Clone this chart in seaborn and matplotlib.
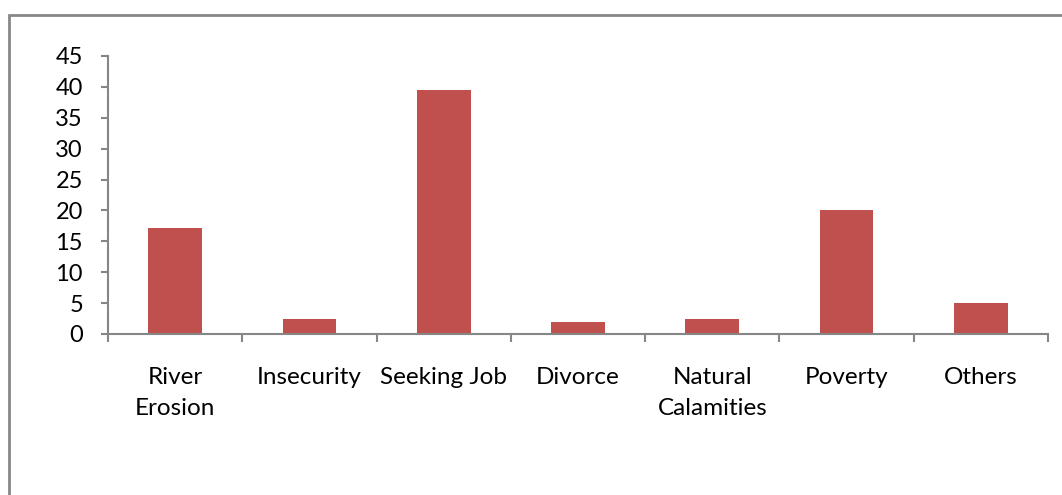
import matplotlib
matplotlib.use("Agg")
import matplotlib.pyplot as plt
import seaborn as sns
import pandas as pd
from matplotlib.patches import Rectangle

categories = ["River\nErosion", "Insecurity", "Seeking Job", "Divorce",
              "Natural\nCalamities", "Poverty", "Others"]
values = [17.1, 2.4, 39.5, 1.9, 2.4, 20.0, 5.0]
yticks = [0, 5, 10, 15, 20, 25, 30, 35, 40, 45]

sns.set_theme(style="white")
plt.rcParams['font.family'] = ['Lato', 'DejaVu Sans']

df = pd.DataFrame({"cat": categories, "val": values})

fig = plt.figure(figsize=(10.62, 4.95), dpi=100)
ax = fig.add_axes([108/1062, 1-334/495, (1048-108)/1062, (334-56)/495])

sns.barplot(data=df, x="cat", y="val", color="#C0504D", width=0.4,
            saturation=1, ax=ax, edgecolor="none")

ax.set_xlim(-0.5, len(categories)-0.5)
ax.set_ylim(0, 45)
ax.set_yticks(yticks)
ax.set_xlabel("")
ax.set_ylabel("")

for s in ["top", "right"]:
    ax.spines[s].set_visible(False)
for s in ["left", "bottom"]:
    ax.spines[s].set_color("#868686")
    ax.spines[s].set_linewidth(1.5)

ax.tick_params(axis="y", which="major", direction="out", length=5, width=1.5,
               color="#868686", pad=13, labelsize=17, left=True, labelcolor="black")
ax.tick_params(axis="x", which="major", length=0, pad=24, labelsize=17.5, labelcolor="black")
ax.set_xticks([i - 0.5 for i in range(len(categories)+1)], minor=True)
ax.tick_params(axis="x", which="minor", direction="out", length=6, width=1.5,
               color="#868686", bottom=True)
for lab in ax.get_xticklabels():
    lab.set_linespacing(1.55)
    lab.set_verticalalignment("top")

fig.patches.append(Rectangle((9/1062, -0.1), 1.2, 1-15/495+0.1,
                             transform=fig.transFigure, fill=False,
                             edgecolor="#878787", linewidth=2))

fig.savefig("out.png", dpi=100, facecolor="white")
